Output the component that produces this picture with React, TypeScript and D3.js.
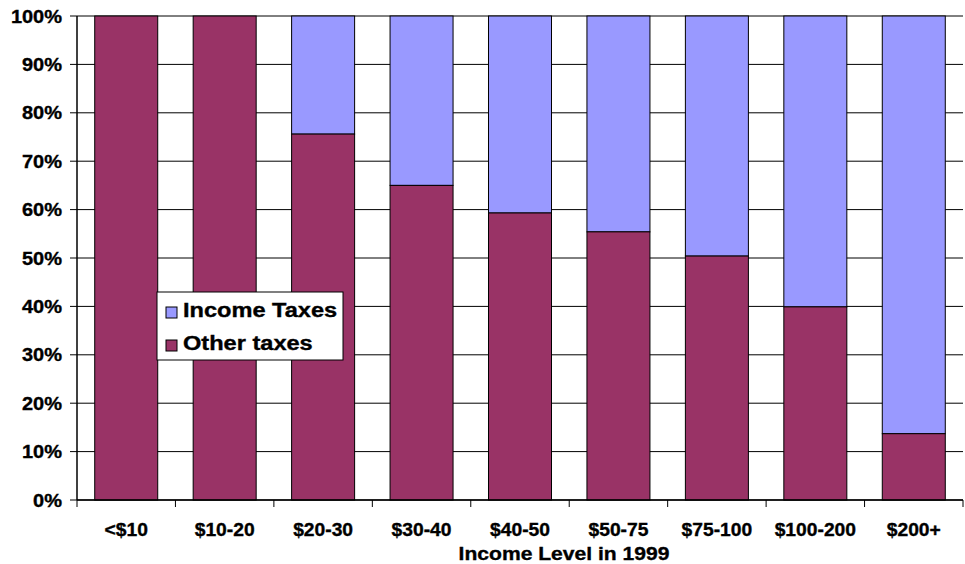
import React from "react";
import * as d3 from "d3";

const categories = ["<$10", "$10-20", "$20-30", "$30-40", "$40-50", "$50-75", "$75-100", "$100-200", "$200+"];
const otherTaxes = [100, 100, 75.6, 65.0, 59.3, 55.4, 50.4, 39.9, 13.7];
const yTicks = [0, 10, 20, 30, 40, 50, 60, 70, 80, 90, 100];
const seriesNames = ["Income Taxes", "Other taxes"];
const colors = ["#9999FF", "#993366"];

const font = "Arial, 'Liberation Sans', sans-serif";

function WText({ x, y, sx, size, anchor, children }: { x: number; y: number; sx: number; size: number; anchor?: string; children: React.ReactNode }) {
  return (
    <text transform={`translate(${x},${y}) scale(${sx},1)`} textAnchor={anchor || "start"} fontFamily={font} fontWeight="bold" fontSize={size} stroke="#000" strokeWidth={0.35}>
      {children}
    </text>
  );
}

export default function App() {
  const W = 965, H = 564;
  const left = 77, right = 963, top = 16, bottom = 500;
  const x = d3.scaleBand<string>().domain(categories).range([left, right]).paddingInner(0.36).paddingOuter(0.18);
  const xb = d3.scaleBand<string>().domain(categories).range([left, right]);
  const y = d3.scaleLinear().domain([0, 100]).range([bottom, top]);
  return (
    <svg width={W} height={H} style={{ position: "absolute", left: 0, top: 0, background: "#fff" }}>
      {yTicks.map((t) => (
        <g key={t}>
          <line x1={left - 7} x2={right} y1={y(t)} y2={y(t)} stroke="#000" strokeWidth={1} />
          <WText x={62} y={y(t) + 6.5} sx={1.08} size={18.5} anchor="end">{t}%</WText>
        </g>
      ))}
      {categories.map((c, i) => (
        <g key={c}>
          <rect x={x(c)} y={y(100)} width={x.bandwidth()} height={y(otherTaxes[i]) - y(100)} fill={colors[0]} stroke="#000" strokeWidth={1} />
          <rect x={x(c)} y={y(otherTaxes[i])} width={x.bandwidth()} height={y(0) - y(otherTaxes[i])} fill={colors[1]} stroke="#000" strokeWidth={1} />
          <WText x={(x(c) as number) + x.bandwidth() / 2} y={536} sx={1.07} size={18} anchor="middle">{c}</WText>
        </g>
      ))}
      <line x1={left} x2={left} y1={top} y2={bottom} stroke="#000" strokeWidth={1.5} />
      <line x1={left} x2={right} y1={bottom} y2={bottom} stroke="#000" strokeWidth={1.5} />
      {[...categories.map((c) => xb(c) as number), right].map((p, i) => (
        <line key={i} x1={p} x2={p} y1={bottom} y2={bottom + 7} stroke="#000" strokeWidth={1} />
      ))}
      <WText x={564} y={560} sx={1.11} size={19} anchor="middle">Income Level in 1999</WText>
      <g>
        <rect x={157} y={292} width={186} height={68} fill="#fff" stroke="#000" strokeWidth={1} />
        {seriesNames.map((s, i) => (
          <g key={s}>
            <rect x={166} y={307 + i * 33} width={11} height={11} fill={colors[i]} stroke="#000" strokeWidth={1} />
            <WText x={183} y={317 + i * 33} sx={1.21} size={19.5}>{s}</WText>
          </g>
        ))}
      </g>
    </svg>
  );
}
